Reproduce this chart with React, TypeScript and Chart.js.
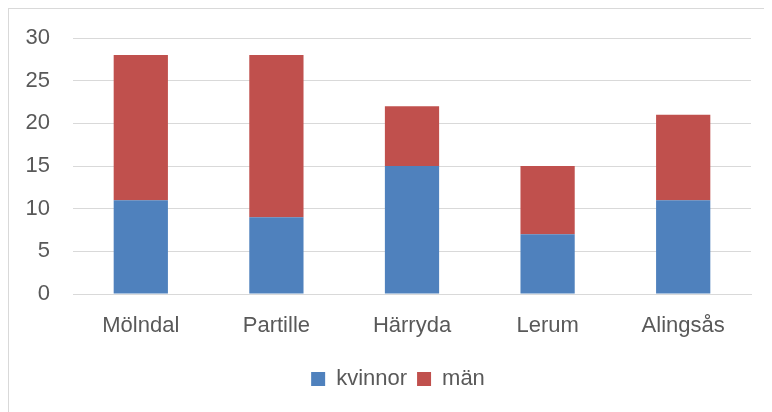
import React, { useEffect, useRef } from "react";
import { Chart, registerables } from "chart.js";

Chart.register(...registerables);

const categories = ["Mölndal", "Partille", "Härryda", "Lerum", "Alingsås"];
const kvinnor = [11, 9, 15, 7, 11];
const man = [17, 19, 7, 8, 10];
const seriesNames = ["kvinnor", "män"];
const yTicksMax = 30;
const yStep = 5;

const FONT = "'Liberation Sans', Arial, sans-serif";
const TEXT = "#595959";
const GRID = "#d9d9d9";
const FS = 22;

const legendShift = {
  id: "legendShift",
  afterLayout(chart: any) {
    const l = chart.legend;
    if (l) {
      l.left += 18;
      l.right += 18;
    }
  },
};

export default function App() {
  const ref = useRef<HTMLCanvasElement | null>(null);

  useEffect(() => {
    document.body.style.overflow = "hidden";
    const canvas = ref.current;
    if (!canvas) return;
    const chart = new Chart(canvas, {
      type: "bar",
      data: {
        labels: categories,
        datasets: [
          { label: seriesNames[0], data: kvinnor, backgroundColor: "#4F81BD" },
          { label: seriesNames[1], data: man, backgroundColor: "#C0504D" },
        ],
      },
      plugins: [legendShift],
      options: {
        responsive: false,
        animation: false,
        maintainAspectRatio: false,
        layout: { padding: { top: 29, right: 21, bottom: 12, left: 0 } },
        datasets: { bar: { categoryPercentage: 1, barPercentage: 0.4 } },
        plugins: {
          tooltip: { enabled: false },
          legend: {
            position: "bottom",
            labels: {
              boxWidth: 14,
              boxHeight: 14,
              padding: 10,
              color: TEXT,
              font: { family: FONT, size: FS },
            },
          },
        },
        scales: {
          x: {
            stacked: true,
            grid: { display: false, drawTicks: false },
            border: { display: true, color: GRID, width: 1 },
            ticks: { color: TEXT, padding: 19, font: { family: FONT, size: FS } },
            afterFit: (s: any) => {
              s.height = 64;
            },
          },
          y: {
            stacked: true,
            min: 0,
            max: yTicksMax,
            ticks: { stepSize: yStep, color: TEXT, padding: 3, font: { family: FONT, size: FS } },
            grid: { color: GRID, drawTicks: true, tickLength: 20, tickColor: "rgba(0,0,0,0)", lineWidth: 1 },
            border: { display: false },
            afterFit: (s: any) => {
              s.width = 64;
            },
          },
        },
      },
    });
    return () => chart.destroy();
  }, []);

  return (
    <div
      style={{
        width: 763,
        height: 403,
        borderTop: "1px solid #d9d9d9",
        borderLeft: "1px solid #d9d9d9",
        overflow: "hidden",
        background: "#fff",
      }}
    >
      <canvas ref={ref} width={763} height={403} style={{ display: "block", width: 763, height: 403 }} />
    </div>
  );
}
